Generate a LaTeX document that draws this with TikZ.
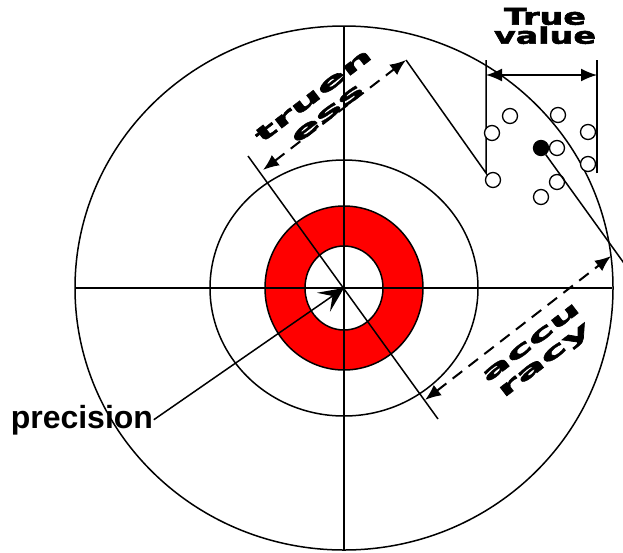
\documentclass[tikz,border=0pt]{standalone}
\usepackage{fontspec}
\setmainfont{Liberation Sans}
\newfontfamily\heavyfont[BoldFeatures={FakeBold=2}]{DejaVu Sans}
\usepackage{graphicx}
\usetikzlibrary{arrows.meta,calc,positioning}
\newcommand{\stretched}[2]{\scalebox{#1}[1]{#2}}

\begin{document}
\begin{tikzpicture}[x=1pt,y=-1pt,line width=1.5pt,>=Latex,
  dimlabel/.style={font=\heavyfont\bfseries\fontsize{20}{22}\selectfont,align=center,rotate=37.6,inner sep=0pt},
  dimline/.style={line width=2pt,dash pattern=on 12pt off 8pt,{Latex[length=16pt,width=13pt]}-{Latex[length=16pt,width=13pt]}},
  shot/.style={circle,draw,line width=1.3pt,minimum size=15pt,inner sep=0pt,fill=white}]
  \useasboundingbox (0,0) rectangle (623,552);
  \coordinate (c) at (344,288);
  % target rings
  \draw (c) ellipse [x radius=269pt,y radius=262pt];
  \draw (c) ellipse [x radius=134pt,y radius=128pt];
  \draw[fill=red,even odd rule] (c) ellipse [x radius=79pt,y radius=82pt]
    (c) ellipse [x radius=39pt,y radius=42pt];
  % cross and diagonal
  \draw (75,288) -- (612,288);
  \draw (344,26) -- (344,550);
  \draw (248,156) -- (438,419);
  % trueness
  \coordinate (t1) at (263,170);
  \coordinate (t2) at (406,60);
  \draw[dimline] (t1) -- (t2);
  \node[dimlabel] (trueness) at (320,104) {\stretched{2.3}{truen}\\\stretched{2.3}{ess}};
  % true value bracket
  \coordinate (v1) at (486,173);
  \coordinate (v2) at (486,60);
  \coordinate (w1) at (597,173);
  \coordinate (w2) at (597,60);
  \draw (t2) -- (v1) -- (v2);
  \draw (w1) -- (w2);
  \draw[{Latex[length=16pt,width=13pt]}-{Latex[length=16pt,width=13pt]}] (486,75) -- (597,75);
  \node[font=\heavyfont\bfseries\fontsize{23}{19}\selectfont,align=center,inner sep=0pt] (truevalue)
    at (545,26) {\stretched{1.45}{True}\\\stretched{1.45}{value}};
  % shots
  \foreach \x/\y in {510/116,492/133,558/115,588/132,557/148,588/164,493/180,557/182,541/197}
    \node[shot] at (\x,\y) {};
  \node[shot,fill=black] (hit) at (541,148) {};
  \draw (hit) -- (626,266);
  % accuracy
  \coordinate (a1) at (425,400);
  \coordinate (a2) at (611,256);
  \draw[dimline] (a1) -- (a2);
  \node[dimlabel] (accuracy) at (539,353) {\stretched{2.3}{accu}\\\stretched{2.3}{racy}};
  % precision
  \node[font=\bfseries\fontsize{32}{36}\selectfont,anchor=base west,inner sep=0pt] (prec) at (10,428) {precision};
  \draw[-{Stealth[length=25pt,width=23pt,inset=11pt]}] (prec.east) -- (c);
\end{tikzpicture}
\end{document}
